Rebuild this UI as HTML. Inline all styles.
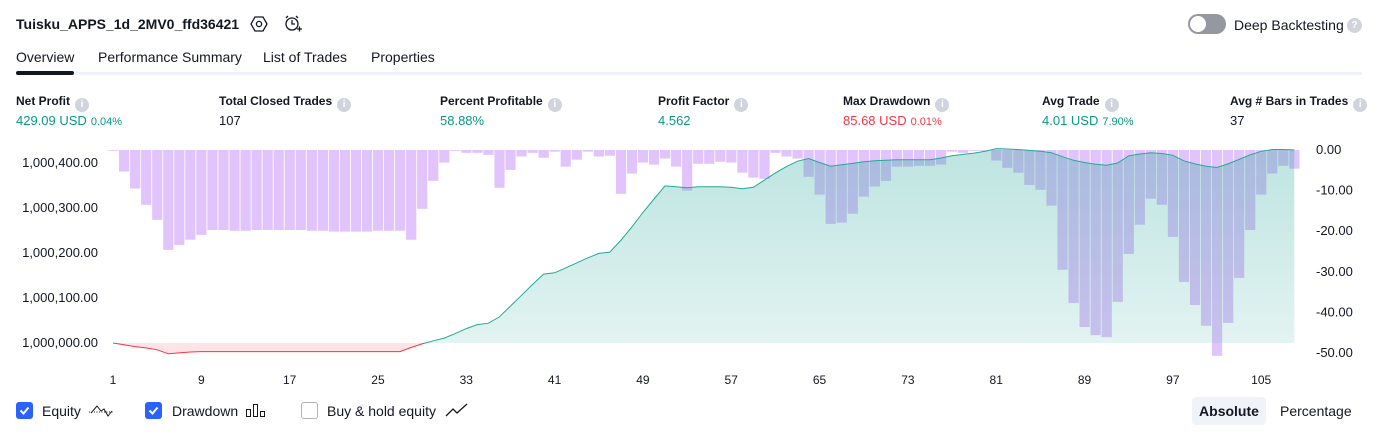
<!DOCTYPE html>
<html><head><meta charset="utf-8">
<style>
body{margin:0;width:1379px;height:435px;background:#fff;font-family:"Liberation Sans",sans-serif;color:#131722;position:relative;overflow:hidden}
.a{position:absolute;white-space:nowrap}
.lbl{font-size:12px;font-weight:bold;top:94px}
.val{font-size:13px;top:113px}
.info{display:inline-block;width:14px;height:14px;border-radius:50%;background:#d1d4dc;color:#fff;font-size:10px;text-align:center;line-height:14px;margin-left:5px;vertical-align:-2px;font-weight:bold}
.g{color:#089981}.r{color:#f23645}
.sm{font-size:11px;margin-left:4px}
.tab{font-size:14px;top:49px}
.cb{position:absolute;top:402px;width:17px;height:17px;border-radius:3px;box-sizing:border-box}
.leg{font-size:14px;top:403px}
</style></head><body>
<div class="a" style="left:16px;top:16px;font-size:14px;font-weight:bold">Tuisku_APPS_1d_2MV0_ffd36421</div>
<svg class="a" style="left:250px;top:15px" width="18" height="18" viewBox="0 0 18 18"><polygon points="5,2 13,2 17,9 13,16 5,16 1,9" fill="none" stroke="#131722" stroke-width="1.3"/><circle cx="9" cy="9" r="2.6" fill="none" stroke="#131722" stroke-width="1.3"/></svg>
<svg class="a" style="left:283px;top:14px" width="20" height="20" viewBox="0 0 20 20"><circle cx="9" cy="10" r="6" fill="none" stroke="#131722" stroke-width="1.3"/><path d="M9 6v4h3M3 4l2-2M15 4l-2-2M14 15h5M16.5 12.5v5" fill="none" stroke="#131722" stroke-width="1.3"/></svg>
<div class="a" style="left:1188px;top:14px;width:38px;height:20px;border-radius:10px;background:#9598a1"><div style="position:absolute;left:2px;top:2px;width:16px;height:16px;border-radius:50%;background:#fff"></div></div>
<div class="a" style="left:1234px;top:17px;font-size:14px">Deep Backtesting</div>
<div class="a info" style="left:1342px;top:18px;width:15px;height:15px;line-height:15px">?</div>

<div class="a tab" style="left:16px">Overview</div>
<div class="a tab" style="left:98px">Performance Summary</div>
<div class="a tab" style="left:263px">List of Trades</div>
<div class="a tab" style="left:371px">Properties</div>
<div class="a" style="left:16px;top:72px;width:1346px;height:3px;background:#f0f3fa"></div>
<div class="a" style="left:16px;top:71px;width:58px;height:4px;border-radius:2px;background:#131722"></div>

<div class="a lbl" style="left:16px">Net Profit<span class="info">i</span></div>
<div class="a val g" style="left:16px">429.09 USD<span class="sm">0.04%</span></div>
<div class="a lbl" style="left:219px">Total Closed Trades<span class="info">i</span></div>
<div class="a val" style="left:219px">107</div>
<div class="a lbl" style="left:440px">Percent Profitable<span class="info">i</span></div>
<div class="a val g" style="left:440px">58.88%</div>
<div class="a lbl" style="left:658px">Profit Factor<span class="info">i</span></div>
<div class="a val g" style="left:658px">4.562</div>
<div class="a lbl" style="left:843px">Max Drawdown<span class="info">i</span></div>
<div class="a val r" style="left:843px">85.68 USD<span class="sm">0.01%</span></div>
<div class="a lbl" style="left:1042px">Avg Trade<span class="info">i</span></div>
<div class="a val g" style="left:1042px">4.01 USD<span class="sm">7.90%</span></div>
<div class="a lbl" style="left:1230px">Avg # Bars in Trades<span class="info">i</span></div>
<div class="a val" style="left:1230px">37</div>

<svg id="chart" class="a" style="left:0;top:0" width="1379" height="395" font-family="Liberation Sans, sans-serif" font-size="12"></svg>

<div class="cb" style="left:16px;background:#2962ff"><svg width="17" height="17"><path d="M4.5 8.5l3 3 5-6" fill="none" stroke="#fff" stroke-width="2"/></svg></div>
<div class="a leg" style="left:42px">Equity</div>
<svg class="a" style="left:88px;top:402px" width="26" height="16"><path d="M1 10h24" stroke="#131722" stroke-dasharray="1 1.5"/><path d="M3 11l6-7 4 5 3-2 4 7 4-5" fill="none" stroke="#131722"/></svg>
<div class="cb" style="left:145px;background:#2962ff"><svg width="17" height="17"><path d="M4.5 8.5l3 3 5-6" fill="none" stroke="#fff" stroke-width="2"/></svg></div>
<div class="a leg" style="left:172px">Drawdown</div>
<svg class="a" style="left:245px;top:402px" width="22" height="16"><rect x="1.5" y="7.5" width="4" height="7" fill="none" stroke="#131722"/><rect x="8.5" y="2.5" width="4" height="12" fill="none" stroke="#131722"/><rect x="15.5" y="9.5" width="4" height="5" fill="none" stroke="#131722"/></svg>
<div class="cb" style="left:301px;border:1.5px solid #b2b5be;background:#fff"></div>
<div class="a leg" style="left:327px">Buy &amp; hold equity</div>
<svg class="a" style="left:445px;top:402px" width="24" height="16"><path d="M1 14l7-7 4 4 10-9" fill="none" stroke="#131722" stroke-width="1.3"/></svg>
<div class="a" style="left:1192px;top:397px;width:74px;height:28px;border-radius:4px;background:#f0f3fa;font-size:14px;font-weight:bold;text-align:center;line-height:28px">Absolute</div>
<div class="a" style="left:1280px;top:403px;font-size:14px">Percentage</div>

<script>
const drawdown = [0.2,5.3,9.5,13.5,17.2,24.6,23.4,22.1,20.9,
19.7,19.7,19.9,19.9,19.7,19.7,19.7,19.7,19.7,19.9,19.9,20.1,20.1,20.1,20.1,19.9,19.9,19.9,
22.1,14.5,7.6,3.1,0.2,0.7,0.7,1.2,9.3,4.9,1.6,0.7,1.9,0.4,4.1,2.4,0.4,1.6,1.4,10.8,5.8,3.1,3.6,2.1,4.1,
10.0,3.4,3.4,2.9,3.1,5.6,6.8,7.1,0.7,1.6,2.1,6.6,11.0,18.2,17.9,15.7,11.5,9.0,7.6,4.1,4.1,3.9,3.9,3.6,0.4,0.7,0.2,0.2,
2.6,4.4,5.6,8.6,9.8,13.7,29.5,37.7,43.6,45.6,46.1,37.4,25.6,18.4,12.0,13.5,21.4,32.5,38.2,43.3,50.7,42.6,31.5,19.7,11.0,5.8,3.9,4.6];
const equity = [0,-4,-8,-11,-15,-24,-22,-20,-19,
-19,-19,-19,-19,-19,-19,-19,-19,-19,-19,-19,-19,-19,-19,-19,-19,-19,-19,
-10,-2,5,11,21,32,41,44,58,82,106,130,153,156,167,178,189,199,202,228,258,290,320,349,347,
345,347,347,347,346,343,346,362,378,392,404,410,401,393,396,399,403,405,406,407,407,407,407,411,416,419,422,426,
432,431,430,428,426,423,414,406,401,397,395,400,416,420,423,421,417,405,398,393,390,398,408,418,426,430,430,429];
const leftTicks = [0,100,200,300,400];
const rightTicks = [0,-10,-20,-30,-40,-50];
const xTicks = [1,9,17,25,33,41,49,57,65,73,81,89,97,105];

const NS='http://www.w3.org/2000/svg';
const svg=document.getElementById('chart');
function xOf(i){return 113+(i-1)*11.04;}
function yDD(v){return 150+v*4.06;}
function yEq(v){return 343-v*0.45;}
function mk(tag,attrs,parent){const e=document.createElementNS(NS,tag);for(const k in attrs)e.setAttribute(k,attrs[k]);(parent||svg).appendChild(e);return e;}

const defs=mk('defs',{});
const gg=mk('linearGradient',{id:'gg',x1:0,y1:0,x2:0,y2:1},defs);
mk('stop',{offset:'0','stop-color':'rgba(38,166,154,0.3)'},gg);
mk('stop',{offset:'1','stop-color':'rgba(38,166,154,0.12)'},gg);
const rg=mk('linearGradient',{id:'rg',x1:0,y1:0,x2:0,y2:1},defs);
mk('stop',{offset:'0','stop-color':'rgba(242,54,69,0.02)'},rg);
mk('stop',{offset:'1','stop-color':'rgba(242,54,69,0.14)'},rg);
const cp1=mk('clipPath',{id:'above'},defs);mk('rect',{x:0,y:0,width:1379,height:343},cp1);
const cp2=mk('clipPath',{id:'below'},defs);mk('rect',{x:0,y:343,width:1379,height:60},cp2);

drawdown.forEach((v,k)=>{
  const b=mk('rect',{x:xOf(k+1)-5,y:150,width:10.2,height:Math.max(0.8,v*4.06),fill:'#e1c4fb'});
  
  
});

let pts=equity.map((v,k)=>xOf(k+1).toFixed(1)+','+yEq(v).toFixed(1));
const first=xOf(1),last=xOf(equity.length);
const ga=mk('polygon',{points:first+',343 '+pts.join(' ')+' '+last+',343',fill:'url(#gg)','clip-path':'url(#above)'});


const ra=mk('polygon',{points:first+',343 '+pts.join(' ')+' '+last+',343',fill:'url(#rg)','clip-path':'url(#below)'});


const gl=mk('polyline',{points:pts.join(' '),fill:'none',stroke:'#22ab94','stroke-width':1,'clip-path':'url(#above)'});


const rl=mk('polyline',{points:pts.join(' '),fill:'none',stroke:'#f23645','stroke-width':1,'clip-path':'url(#below)'});



leftTicks.forEach(v=>{
  const t=mk('text',{x:98,y:yEq(v)+4,'text-anchor':'end',fill:'#131722','font-size':13});
  t.textContent='1,000,'+String(v).padStart(3,'0')+'.00';
  
  
});
rightTicks.forEach(v=>{
  const t=mk('text',{x:1316,y:yDD(-v)+4,fill:'#131722','font-size':13});
  t.textContent=v.toFixed(2);
  
  
});
xTicks.forEach(v=>{
  const t=mk('text',{x:xOf(v),y:384,'text-anchor':'middle',fill:'#131722'});
  t.textContent=v;
  
  
});
</script>
</body></html>
